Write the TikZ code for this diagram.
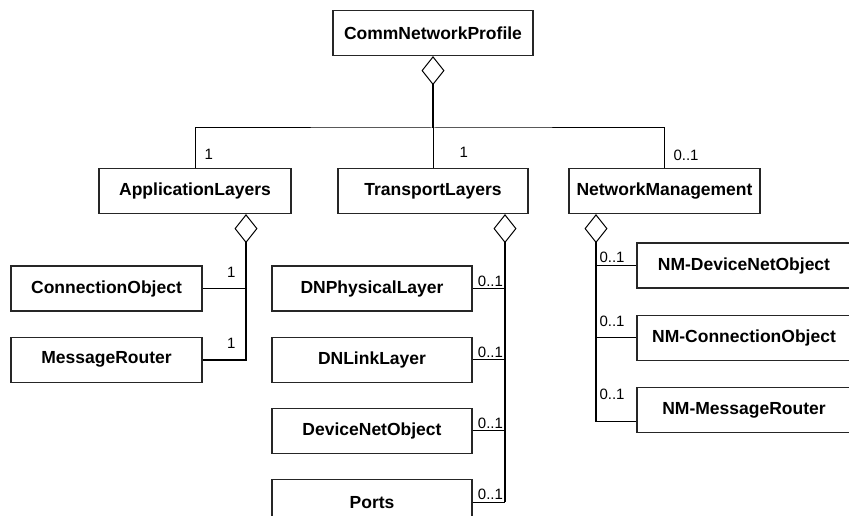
\documentclass[tikz,border=0pt]{standalone}
\usepackage{fontspec}
\setmainfont{Liberation Sans}
\usetikzlibrary{arrows.meta, positioning}

\begin{document}
\begin{tikzpicture}[x=1pt, y=-1pt, line width=1pt, node distance=25pt,
  cls/.style={draw=black!85, line width=1.2pt, font=\bfseries\fontsize{17.5}{20}\selectfont, minimum height=45pt, inner sep=0pt},
  mult/.style={font=\fontsize{15}{17}\selectfont, inner sep=0pt},
  agg/.style={line width=2pt, {Diamond[open, length=29pt, width=23pt, line width=1pt]}-}]

\path [use as bounding box, clip] (0,0) rectangle (849,516);

% top level
\node [cls, minimum width=200pt] (profile) at (433,33) {CommNetworkProfile};
\node [cls, minimum width=192pt] (app) at (195,191) {ApplicationLayers};
\node [cls, minimum width=190pt] (tl) at (433,191) {TransportLayers};
\node [cls, minimum width=191pt] (nm) at (664.5,191) {NetworkManagement};
\coordinate (bus) at (433,128);

\draw [agg] (profile.south) -- (bus);
\draw (app.north) |- (bus) -| (nm.north);
\draw (bus) -- (tl.north);
\node [mult, anchor=south west] at ([xshift=9pt, yshift=8pt]app.north) {1};
\node [mult, anchor=south west] at ([xshift=26pt, yshift=10pt]tl.north) {1};
\node [mult, anchor=south west] at ([xshift=8.5pt, yshift=7pt]nm.north) {0..1};

% application layers
\node [cls, minimum width=191pt] (conn) at (106.5,288.5) {ConnectionObject};
\node [cls, minimum width=191pt] (router) [below=of conn] {MessageRouter};
\coordinate (appagg) at ([xshift=51pt]app.south);
\draw [agg] (appagg) |- (router.east);
\draw (conn.east) -- (conn.east -| appagg);
\node [mult, anchor=south east] at ([xshift=-10pt, yshift=11pt]conn.east -| appagg) {1};
\node [mult, anchor=south east] at ([xshift=-10pt, yshift=11pt]router.east -| appagg) {1};

% transport layers
\node [cls, minimum width=200pt] (dnphys) at (372,288.5) {DNPhysicalLayer};
\node [cls, minimum width=200pt] (dnlink) [below=of dnphys] {DNLinkLayer};
\node [cls, minimum width=200pt] (dnobj) [below=of dnlink] {DeviceNetObject};
\node [cls, minimum width=200pt] (ports) [below=of dnobj] {Ports};
\coordinate (tlagg) at ([xshift=72pt]tl.south);
\draw [agg] (tlagg) -- (tlagg |- ports.east);
\foreach \n in {dnphys, dnlink, dnobj, ports}
  \draw (\n.east) -- (\n.east -| tlagg)
    node [mult, anchor=south east, pos=1, xshift=-1.5pt, yshift=1.5pt] {0..1};

% network management
\node [cls, minimum width=214pt] (nmdev) at (744,265.5) {NM-DeviceNetObject};
\node [cls, minimum width=214pt] (nmconn) [below=26pt of nmdev] {NM-ConnectionObject};
\node [cls, minimum width=214pt] (nmrouter) [below=26pt of nmconn] {NM-MessageRouter};
\coordinate (nmagg) at ([xshift=-68.5pt]nm.south);
\coordinate (nmend) at ([yshift=-12pt]nmrouter.west);
\draw [agg] (nmagg) -- (nmagg |- nmend);
\draw (nmagg |- nmend) -- (nmend);
\draw (nmagg |- nmdev.west) -- (nmdev.west);
\draw (nmagg |- nmconn.west) -- (nmconn.west);
\node [mult, anchor=south west] at ([xshift=3pt, yshift=2.5pt]nmagg |- nmdev.west) {0..1};
\node [mult, anchor=south west] at ([xshift=3pt, yshift=10.5pt]nmagg |- nmconn.west) {0..1};
\node [mult, anchor=south west] at ([xshift=3pt, yshift=10pt]nmagg |- nmrouter.west) {0..1};

\end{tikzpicture}
\end{document}
